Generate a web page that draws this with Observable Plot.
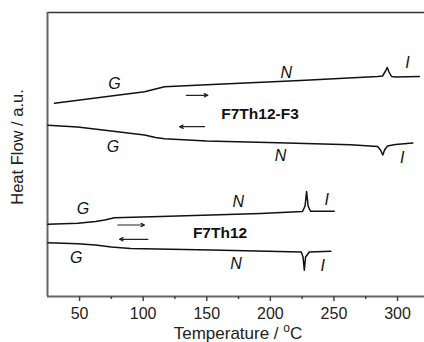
<!DOCTYPE html>
<html><head><meta charset="utf-8">
<script src="https://cdn.jsdelivr.net/npm/d3@7"></script>
<script src="https://cdn.jsdelivr.net/npm/@observablehq/plot@0.6"></script>
<style>body{margin:0;background:#fff;} #chart{width:424px;height:342px;}</style>
</head><body><div id="chart"></div>
<script>
// Temperature (°C) and heat flow (a.u., arbitrary offset scale)
const f3HeatT = [30.3, 101.1, 109.7, 116.8, 158.5, 223.7, 284.3, 288.2, 290.6, 291.9, 293.3, 295.3, 298.4, 317.3];
const f3HeatY = [19.32, 20.48, 20.75, 20.98, 21.22, 21.6, 22.0, 22.05, 22.55, 22.9, 22.45, 22.0, 21.95, 22.0];
const f3CoolT = [25.1, 48.4, 74.9, 101.1, 109.7, 116.8, 149.8, 205.9, 263, 284.3, 286.6, 288.4, 289.8, 292.1, 298.4, 312];
const f3CoolY = [17.12, 16.95, 16.55, 16.15, 15.9, 15.78, 15.55, 15.38, 15.17, 15.0, 14.65, 14.15, 14.65, 15.05, 15.2, 15.35];
const thHeatT = [25.1, 48.7, 62.6, 69.7, 77.5, 113.7, 153.5, 192.3, 225.3, 227.3, 228.5, 229.7, 231.6, 250.2];
const thHeatY = [7.22, 7.32, 7.5, 7.65, 7.88, 8.0, 8.15, 8.3, 8.5, 9.05, 10.5, 9.05, 8.52, 8.52];
const thCoolT = [25.1, 48.7, 62.6, 74.9, 90.1, 153.5, 224.3, 225.7, 226.7, 227.7, 230.6, 247.6];
const thCoolY = [5.38, 5.28, 5.15, 4.95, 4.8, 4.65, 4.45, 3.95, 2.62, 3.95, 4.45, 4.52];

const phaseText = ["G", "N", "I", "G", "N", "I", "G", "N", "I", "G", "N", "I"];
const phaseT = [77.5, 212.5, 307.9, 76.2, 208, 303.6, 52.6, 174.8, 244.4, 47.4, 173.1, 241.2];
const phaseY = [21.28, 22.32, 23.35, 14.95, 14.05, 13.88, 8.72, 9.42, 9.65, 3.88, 3.22, 3.09];

const sampleNames = ["F7Th12-F3", "F7Th12"];
const sampleT = [161.4, 139.1];
const sampleY = [18.28, 6.38];

// arrows: heating (right) and cooling (left)
const arrowFromT = [133.9, 148.3, 80.1, 103.7];
const arrowToT = [150.9, 128.6, 101.1, 81.4];
const arrowY = [20.12, 16.98, 7.15, 5.72];

const majorTicks = [50, 100, 150, 200, 250, 300];
const minorTicks = [75, 125, 175, 225, 275];

const xDomain = [24.8, 321.2];
const yDomain = [0, 28.4];

const toRows = (T, Y, name) => T.map((t, i) => ({t, y: Y[i], name}));
const curves = [
  ...toRows(f3HeatT, f3HeatY, "f3heat"),
  ...toRows(f3CoolT, f3CoolY, "f3cool"),
  ...toRows(thHeatT, thHeatY, "thheat"),
  ...toRows(thCoolT, thCoolY, "thcool")
];
const phases = phaseText.map((s, i) => ({s, t: phaseT[i], y: phaseY[i]}));
const samples = sampleNames.map((s, i) => ({s, t: sampleT[i], y: sampleY[i]}));
const arrows = arrowFromT.map((a, i) => ({x1: a, x2: arrowToT[i], y: arrowY[i]}));

const chart = Plot.plot({
  width: 424, height: 342,
  marginLeft: 47, marginRight: 0, marginTop: 12, marginBottom: 46,
  style: {fontFamily: "'Liberation Sans', Arial, sans-serif", background: "#fff", color: "#111"},
  x: {domain: xDomain, label: null},
  y: {domain: yDomain, axis: null},
  marks: [
    Plot.ruleY([yDomain[1]], {stroke: "#333", strokeWidth: 1.6}),
    Plot.ruleX([xDomain[0]], {stroke: "#666", strokeWidth: 2}),
    Plot.ruleY([0], {stroke: "#666", strokeWidth: 2}),
    Plot.axisX(majorTicks, {tickSize: 5, tickPadding: 6, fontSize: 16, stroke: "#444", strokeWidth: 1.5, label: null, fill: "#222"}),
    Plot.axisX(minorTicks, {tickSize: 3, tickFormat: () => "", stroke: "#444", strokeWidth: 1.5, label: null}),
    Plot.line(curves, {x: "t", y: "y", z: "name", stroke: "#111", strokeWidth: 1.5}),
    Plot.text(phases, {x: "t", y: "y", text: "s", fontSize: 16, fontStyle: "italic", fill: "#111"}),
    Plot.text(samples, {x: "t", y: "y", text: "s", fontSize: 15.5, fontWeight: "bold", textAnchor: "start", fill: "#111"}),
    Plot.arrow(arrows, {x1: "x1", x2: "x2", y1: "y", y2: "y", stroke: "#222", strokeWidth: 1.2, headLength: 5, headAngle: 50})
  ]
});

const svg = d3.select(chart);
const xl = svg.append("text")
  .attr("x", 238).attr("y", 339)
  .attr("text-anchor", "middle")
  .attr("font-size", 17).attr("fill", "#222")
  .attr("font-family", "'Liberation Sans', Arial, sans-serif");
xl.append("tspan").text("Temperature / ");
xl.append("tspan").attr("font-size", 12).attr("dy", -7).text("o");
xl.append("tspan").attr("dy", 7).text("C");

svg.append("text")
  .attr("transform", "translate(23,147) rotate(-90)")
  .attr("text-anchor", "middle")
  .attr("font-size", 16.5).attr("fill", "#222")
  .attr("font-family", "'Liberation Sans', Arial, sans-serif")
  .text("Heat Flow / a.u.");

document.getElementById("chart").appendChild(chart);
</script>
</body></html>
